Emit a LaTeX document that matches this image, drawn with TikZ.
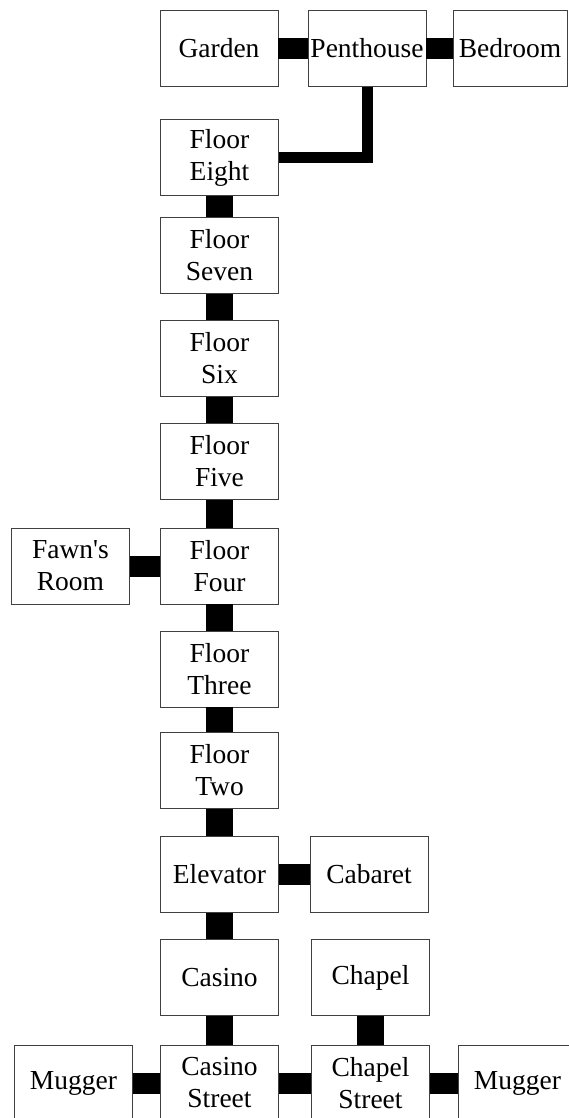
\documentclass[tikz,border=0pt]{standalone}
\usepackage{fontspec}
\setmainfont{Liberation Serif}[Ligatures=TeXOff]
\tikzset{
    room/.style={draw=black!75, line width=0.8pt, fill=white, inner sep=0pt,
        minimum width=118pt, minimum height=76pt, align=center,
        font=\fontsize{27.5}{32}\selectfont},
    hlink/.style={line width=21pt},
    vlink/.style={line width=27pt},
    elbow/.style={line width=11pt}
}
\begin{document}
\begin{tikzpicture}[x=1pt,y=1pt]
    \useasboundingbox (0,0) rectangle (569,-1118);
    % top row
    \node [room] (garden) at (219,-48.5) {Garden};
    \node [room] (penthouse) at (367,-48.5) {Penthouse};
    \node [room, minimum width=114pt] (bedroom) at (510,-48.5) {Bedroom};
    % floors
    \node [room] (eight) at (219.5,-157.5) {Floor\\Eight};
    \node [room] (seven) at (219.5,-255.5) {Floor\\Seven};
    \node [room] (six) at (219.5,-358.5) {Floor\\Six};
    \node [room] (five) at (219.5,-461.5) {Floor\\Five};
    \node [room] (four) at (219.5,-566) {Floor\\Four};
    \node [room] (fawn) at (70.5,-566) {Fawn's\\Room};
    \node [room] (three) at (219.5,-669) {Floor\\Three};
    \node [room] (two) at (219.5,-770.5) {Floor\\Two};
    \node [room] (elevator) at (219.5,-874.5) {Elevator};
    \node [room] (cabaret) at (369,-874.5) {Cabaret};
    \node [room] (casino) at (219.5,-977.5) {Casino};
    \node [room] (chapel) at (370.5,-977.5) {Chapel};
    % street
    \node [room] (muggerw) at (73.5,-1083) {Mugger};
    \node [room] (casinost) at (219.5,-1083) {Casino\\Street};
    \node [room] (chapelst) at (370.5,-1083) {Chapel\\Street};
    \node [room] (muggere) at (517.5,-1083) {Mugger};
    % links
    \draw [hlink] (garden) -- (penthouse);
    \draw [hlink] (penthouse) -- (bedroom);
    \draw [elbow] (penthouse.south) |- (eight.east);
    \draw [vlink] (eight) -- (seven);
    \draw [vlink] (seven) -- (six);
    \draw [vlink] (six) -- (five);
    \draw [vlink] (five) -- (four);
    \draw [hlink] (fawn) -- (four);
    \draw [vlink] (four) -- (three);
    \draw [vlink] (three) -- (two);
    \draw [vlink] (two) -- (elevator);
    \draw [hlink] (elevator) -- (cabaret);
    \draw [vlink] (elevator) -- (casino);
    \draw [vlink] (casino) -- (casinost);
    \draw [vlink] (chapel) -- (chapelst);
    \draw [hlink] (muggerw) -- (casinost);
    \draw [hlink] (casinost) -- (chapelst);
    \draw [hlink] (chapelst) -- (muggere);
\end{tikzpicture}
\end{document}
